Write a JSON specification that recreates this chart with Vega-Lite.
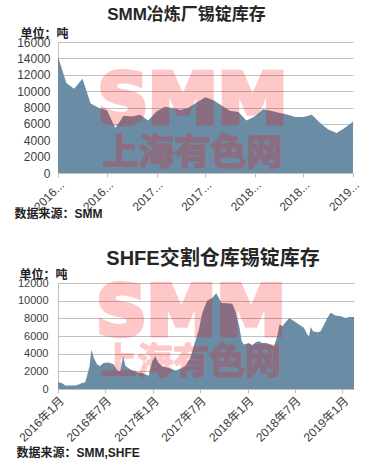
{
  "$schema": "https://vega.github.io/schema/vega-lite/v6.json",
  "background": "white",
  "padding": {"left": 14, "top": 6, "right": 8, "bottom": 4},
  "spacing": 30,
  "config": {
    "font": "Liberation Sans, Noto Sans CJK SC",
    "view": {"stroke": null},
    "axis": {
      "labelFont": "Liberation Sans, Noto Sans CJK SC",
      "titleFont": "Liberation Sans, Noto Sans CJK SC",
      "labelColor": "#404040",
      "titleColor": "#222222",
      "gridColor": "#c0c0c0",
      "domainColor": "#c0c0c0",
      "tickColor": "#c0c0c0",
      "titleFontWeight": "bold",
      "titleFontSize": 12
    },
    "title": {"font": "Liberation Sans, Noto Sans CJK SC", "fontWeight": "bold", "color": "#262626"}
  },
  "datasets": {
    "smm": [
      {"date": "2016-01-01", "value": 14200},
      {"date": "2016-02-01", "value": 11000},
      {"date": "2016-03-01", "value": 10300},
      {"date": "2016-04-01", "value": 11500},
      {"date": "2016-05-01", "value": 8500},
      {"date": "2016-06-01", "value": 7950},
      {"date": "2016-07-01", "value": 7650},
      {"date": "2016-08-01", "value": 5500},
      {"date": "2016-09-01", "value": 7000},
      {"date": "2016-10-01", "value": 6900},
      {"date": "2016-11-01", "value": 7100},
      {"date": "2016-12-01", "value": 6400},
      {"date": "2017-01-01", "value": 7500},
      {"date": "2017-02-01", "value": 8100},
      {"date": "2017-03-01", "value": 7950},
      {"date": "2017-04-01", "value": 7700},
      {"date": "2017-05-01", "value": 8000},
      {"date": "2017-06-01", "value": 8650},
      {"date": "2017-07-01", "value": 9250},
      {"date": "2017-08-01", "value": 8900},
      {"date": "2017-09-01", "value": 8200},
      {"date": "2017-10-01", "value": 7600},
      {"date": "2017-11-01", "value": 7450},
      {"date": "2017-12-01", "value": 6400},
      {"date": "2018-01-01", "value": 6900},
      {"date": "2018-02-01", "value": 7800},
      {"date": "2018-03-01", "value": 7600},
      {"date": "2018-04-01", "value": 7350},
      {"date": "2018-05-01", "value": 7150},
      {"date": "2018-06-01", "value": 6850},
      {"date": "2018-07-01", "value": 6850},
      {"date": "2018-08-01", "value": 7100},
      {"date": "2018-09-01", "value": 6100},
      {"date": "2018-10-01", "value": 5300},
      {"date": "2018-11-01", "value": 4900},
      {"date": "2018-12-01", "value": 5500},
      {"date": "2019-01-01", "value": 6250}
    ],
    "shfe": [
      {"date": "2016-01-01", "value": 760},
      {"date": "2016-01-16", "value": 690},
      {"date": "2016-01-29", "value": 400},
      {"date": "2016-03-08", "value": 390},
      {"date": "2016-03-21", "value": 500},
      {"date": "2016-04-03", "value": 690},
      {"date": "2016-04-15", "value": 760},
      {"date": "2016-04-22", "value": 1500},
      {"date": "2016-05-01", "value": 2500},
      {"date": "2016-05-09", "value": 4460},
      {"date": "2016-05-18", "value": 3500},
      {"date": "2016-05-31", "value": 2760},
      {"date": "2016-06-11", "value": 2600},
      {"date": "2016-06-25", "value": 2950},
      {"date": "2016-07-15", "value": 3000},
      {"date": "2016-08-03", "value": 2760},
      {"date": "2016-08-16", "value": 2100},
      {"date": "2016-08-28", "value": 2000},
      {"date": "2016-09-08", "value": 3700},
      {"date": "2016-09-17", "value": 2600},
      {"date": "2016-10-06", "value": 2200},
      {"date": "2016-11-01", "value": 1900},
      {"date": "2016-11-20", "value": 1820},
      {"date": "2016-12-16", "value": 1500},
      {"date": "2016-12-29", "value": 3140},
      {"date": "2017-01-11", "value": 3700},
      {"date": "2017-01-21", "value": 3000},
      {"date": "2017-02-05", "value": 2570},
      {"date": "2017-03-03", "value": 2390},
      {"date": "2017-03-29", "value": 2100},
      {"date": "2017-04-16", "value": 2300},
      {"date": "2017-05-06", "value": 2600},
      {"date": "2017-05-25", "value": 3500},
      {"date": "2017-06-09", "value": 5000},
      {"date": "2017-06-27", "value": 6700},
      {"date": "2017-07-10", "value": 8600},
      {"date": "2017-07-29", "value": 10000},
      {"date": "2017-08-17", "value": 10300},
      {"date": "2017-09-02", "value": 10850},
      {"date": "2017-09-12", "value": 10300},
      {"date": "2017-09-22", "value": 9750},
      {"date": "2017-10-14", "value": 9700},
      {"date": "2017-11-03", "value": 9640},
      {"date": "2017-11-15", "value": 8800},
      {"date": "2017-12-01", "value": 6900},
      {"date": "2017-12-09", "value": 5400},
      {"date": "2017-12-18", "value": 5030},
      {"date": "2018-01-06", "value": 5220},
      {"date": "2018-01-19", "value": 4920},
      {"date": "2018-02-01", "value": 5290},
      {"date": "2018-02-14", "value": 5400},
      {"date": "2018-02-26", "value": 5220},
      {"date": "2018-03-14", "value": 5200},
      {"date": "2018-03-30", "value": 5030},
      {"date": "2018-04-13", "value": 4840},
      {"date": "2018-04-25", "value": 5970},
      {"date": "2018-05-04", "value": 7290},
      {"date": "2018-05-15", "value": 7100},
      {"date": "2018-05-25", "value": 7480},
      {"date": "2018-06-10", "value": 8050},
      {"date": "2018-06-29", "value": 7670},
      {"date": "2018-07-18", "value": 7290},
      {"date": "2018-08-06", "value": 6920},
      {"date": "2018-08-19", "value": 6160},
      {"date": "2018-08-26", "value": 5970},
      {"date": "2018-09-01", "value": 7030},
      {"date": "2018-09-10", "value": 6530},
      {"date": "2018-09-27", "value": 6420},
      {"date": "2018-10-09", "value": 6530},
      {"date": "2018-10-23", "value": 7290},
      {"date": "2018-11-04", "value": 8050},
      {"date": "2018-11-17", "value": 8620},
      {"date": "2018-12-06", "value": 8310},
      {"date": "2018-12-26", "value": 8230},
      {"date": "2019-01-14", "value": 8050},
      {"date": "2019-01-27", "value": 8160},
      {"date": "2019-02-15", "value": 8150}
    ]
  },
  "vconcat": [
    {
      "width": 295,
      "height": 131,
      "title": {"text": "SMM冶炼厂锡锭库存", "fontSize": 17, "anchor": "middle", "dx": -19, "offset": 3},
      "layer": [
        {
          "data": {"name": "smm"},
          "mark": {"type": "area", "color": "#6a8ca4", "opacity": 1},
          "encoding": {
            "x": {
              "field": "date", "type": "temporal",
              "scale": {"type": "utc", "domain": [{"year": 2016, "month": 1, "date": 1, "utc": true}, {"year": 2019, "month": 1, "date": 1, "utc": true}]},
              "axis": {
                "title": "数据来源：SMM", "titleAlign": "left", "titleAnchor": "start", "titleX": -44, "titleY": 47, "titleBaseline": "bottom",
                "tickCount": {"interval": "month", "step": 6},
                "labelExpr": "utcFormat(datum.value, '%Y') + '...'",
                "labelAngle": -45, "labelFontSize": 12, "tickSize": 4, "labelPadding": 2, "grid": false, "labelFlush": false, "labelOverlap": false
              }
            },
            "y": {
              "field": "value", "type": "quantitative",
              "scale": {"domain": [0, 16000], "nice": false},
              "axis": {
                "title": "单位：吨", "titleAngle": 0, "titleAlign": "left", "titleBaseline": "bottom", "titleX": -38, "titleY": -2,
                "values": [0, 2000, 4000, 6000, 8000, 10000, 12000, 14000, 16000],
                "format": "d", "labelFontSize": 12, "ticks": false, "labelPadding": 8, "grid": true
              }
            }
          }
        },
        {
          "data": {"values": [{}]},
          "mark": {"type": "text", "text": "SMM", "font": "DejaVu Sans", "fontSize": 70, "fontWeight": "bold", "color": "#ff0000", "stroke": "#ff0000", "strokeWidth": 5, "strokeJoin": "miter", "opacity": 0.21, "align": "center", "baseline": "alphabetic", "dx": -13, "dy": 15},
          "encoding": {}
        },
        {
          "data": {"values": [{}]},
          "mark": {"type": "text", "text": "上海有色网", "font": "Noto Sans CJK SC", "fontSize": 36, "fontWeight": "bold", "color": "#ff0000", "stroke": "#ff0000", "strokeWidth": 1.5, "opacity": 0.21, "align": "center", "baseline": "alphabetic", "dx": -13, "dy": 57},
          "encoding": {}
        }
      ]
    },
    {
      "width": 296,
      "height": 106,
      "title": {"text": "SHFE交割仓库锡锭库存", "fontSize": 20, "anchor": "middle", "dx": 7, "offset": -1},
      "layer": [
        {
          "data": {"name": "shfe"},
          "mark": {"type": "area", "color": "#6a8ca4", "opacity": 1},
          "encoding": {
            "x": {
              "field": "date", "type": "temporal",
              "scale": {"type": "utc", "domain": [{"year": 2016, "month": 1, "date": 1, "utc": true}, {"year": 2019, "month": 2, "date": 15, "utc": true}]},
              "axis": {
                "title": "数据来源：SMM,SHFE", "titleAlign": "left", "titleAnchor": "start", "titleX": -42, "titleY": 70, "titleBaseline": "bottom",
                "tickCount": {"interval": "month", "step": 6},
                "labelExpr": "utcFormat(datum.value, '%Y年%-m月')",
                "labelAngle": -45, "labelFontSize": 12, "tickSize": 4, "labelPadding": 2, "grid": false, "labelFlush": false, "labelOverlap": false
              }
            },
            "y": {
              "field": "value", "type": "quantitative",
              "scale": {"domain": [0, 12000], "nice": false},
              "axis": {
                "title": "单位：吨", "titleAngle": 0, "titleAlign": "left", "titleBaseline": "bottom", "titleX": -39, "titleY": -2,
                "values": [0, 2000, 4000, 6000, 8000, 10000, 12000],
                "format": "d", "labelFontSize": 11, "ticks": false, "labelPadding": 10, "grid": true
              }
            }
          }
        },
        {
          "data": {"values": [{}]},
          "mark": {"type": "text", "text": "SMM", "font": "DejaVu Sans", "fontSize": 70, "fontWeight": "bold", "color": "#ff0000", "stroke": "#ff0000", "strokeWidth": 5, "strokeJoin": "miter", "opacity": 0.21, "align": "center", "baseline": "alphabetic", "dx": -15, "dy": -1},
          "encoding": {}
        },
        {
          "data": {"values": [{}]},
          "mark": {"type": "text", "text": "上海有色网", "font": "Noto Sans CJK SC", "fontSize": 36, "fontWeight": "bold", "color": "#ff0000", "stroke": "#ff0000", "strokeWidth": 1.5, "opacity": 0.21, "align": "center", "baseline": "alphabetic", "dx": -15, "dy": 38},
          "encoding": {}
        }
      ]
    }
  ]
}
